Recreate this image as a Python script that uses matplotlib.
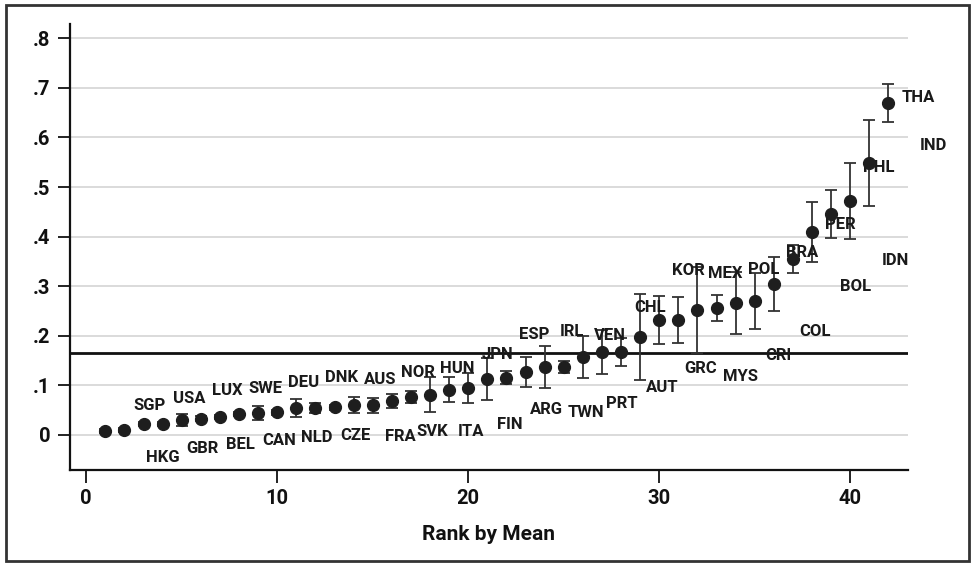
import numpy as np
import matplotlib.pyplot as plt
from matplotlib.patches import Rectangle

plt.rcParams['font.family'] = ['Roboto', 'DejaVu Sans']
plt.rcParams['font.weight'] = 'bold'

# points, ranked by mean
rank = np.arange(1, 43)
mean = [0.008, 0.010, 0.022, 0.022, 0.030, 0.032, 0.036, 0.042, 0.044, 0.046,
        0.054, 0.054, 0.056, 0.060, 0.060, 0.068, 0.077, 0.081, 0.091, 0.095,
        0.113, 0.115, 0.127, 0.137, 0.137, 0.157, 0.167, 0.167, 0.198, 0.232,
        0.232, 0.252, 0.256, 0.266, 0.270, 0.304, 0.355, 0.409, 0.446, 0.472,
        0.548, 0.670]
ci = [0.004, 0.004, 0.004, 0.004, 0.012, 0.005, 0.005, 0.005, 0.015, 0.005,
      0.018, 0.010, 0.005, 0.016, 0.015, 0.014, 0.012, 0.035, 0.025, 0.030,
      0.042, 0.013, 0.031, 0.043, 0.012, 0.043, 0.045, 0.028, 0.087, 0.049,
      0.046, 0.086, 0.026, 0.063, 0.056, 0.055, 0.028, 0.060, 0.048, 0.077,
      0.087, 0.038]
grand_mean = 0.165

# country labels as they sit in the picture
countries = ['SGP', 'USA', 'LUX', 'SWE', 'DEU', 'DNK', 'AUS', 'NOR', 'HUN', 'JPN',
             'ESP', 'IRL', 'VEN', 'CHL', 'KOR', 'MEX', 'POL', 'BRA', 'PER', 'PHL', 'THA',
             'HKG', 'GBR', 'BEL', 'CAN', 'NLD', 'CZE', 'FRA', 'SVK', 'ITA', 'FIN',
             'ARG', 'TWN', 'PRT', 'AUT', 'GRC', 'MYS', 'CRI', 'COL', 'BOL', 'IDN', 'IND']
label_x = [3.30, 5.39, 7.38, 9.37, 11.36, 13.35, 15.39, 17.38, 19.42, 21.52,
           23.46, 25.45, 27.43, 29.53, 31.52, 33.46, 35.45, 37.49, 39.48, 41.47, 43.56,
           4.03, 6.07, 8.06, 10.10, 12.09, 14.08, 16.44, 18.11, 20.16, 22.20,
           24.08, 26.18, 28.06, 30.16, 32.15, 34.24, 36.23, 38.17, 40.26, 42.36, 44.34]
label_y = [0.060, 0.073, 0.089, 0.093, 0.105, 0.115, 0.111, 0.125, 0.133, 0.163,
           0.202, 0.208, 0.200, 0.256, 0.331, 0.325, 0.333, 0.367, 0.425, 0.540, 0.681,
           -0.046, -0.028, -0.020, -0.012, -0.006, -0.002, -0.004, 0.006, 0.006, 0.020,
           0.052, 0.046, 0.064, 0.095, 0.133, 0.117, 0.161, 0.208, 0.300, 0.351, 0.583]

yticks = [0, 0.1, 0.2, 0.3, 0.4, 0.5, 0.6, 0.7, 0.8]
ytick_labels = ['0', '.1', '.2', '.3', '.4', '.5', '.6', '.7', '.8']
xticks = [0, 10, 20, 30, 40]

fig = plt.figure(figsize=(9.75, 5.66), dpi=100)
ax = fig.add_axes([0.0718, 0.1696, 0.859, 0.788])

for y in yticks:
    ax.axhline(y, color='#d4d4d4', lw=1.2, zorder=0)
ax.axhline(grand_mean, color='#111111', lw=2, zorder=1)

ax.errorbar(rank, mean, yerr=ci, fmt='o', color='#1e1e1e', ms=8.5, ecolor='#333333',
            elinewidth=1.3, capsize=4.5, capthick=1.3, zorder=3)

for name, x, y in zip(countries, label_x, label_y):
    ax.text(x, y, name, ha='center', va='center', fontsize=12, color='#1a1a1a')

ax.set_xlim(-0.85, 43.0)
ax.set_ylim(-0.071, 0.829)
ax.set_yticks(yticks)
ax.set_yticklabels(ytick_labels)
ax.set_xticks(xticks)
ax.tick_params(labelsize=14.5, length=9, width=1.3, colors='#111111', pad=5)
for s in ['top', 'right']:
    ax.spines[s].set_visible(False)
for s in ['left', 'bottom']:
    ax.spines[s].set_linewidth(1.6)
    ax.spines[s].set_color('#111111')
ax.set_xlabel('Rank by Mean', fontsize=15, fontweight='bold', labelpad=12, color='#111111')

fig.patches.append(Rectangle((0.006, 0.008), 0.988, 0.984, transform=fig.transFigure,
                             fill=False, edgecolor='#333333', lw=2))

fig.savefig('out.png', dpi=100)
